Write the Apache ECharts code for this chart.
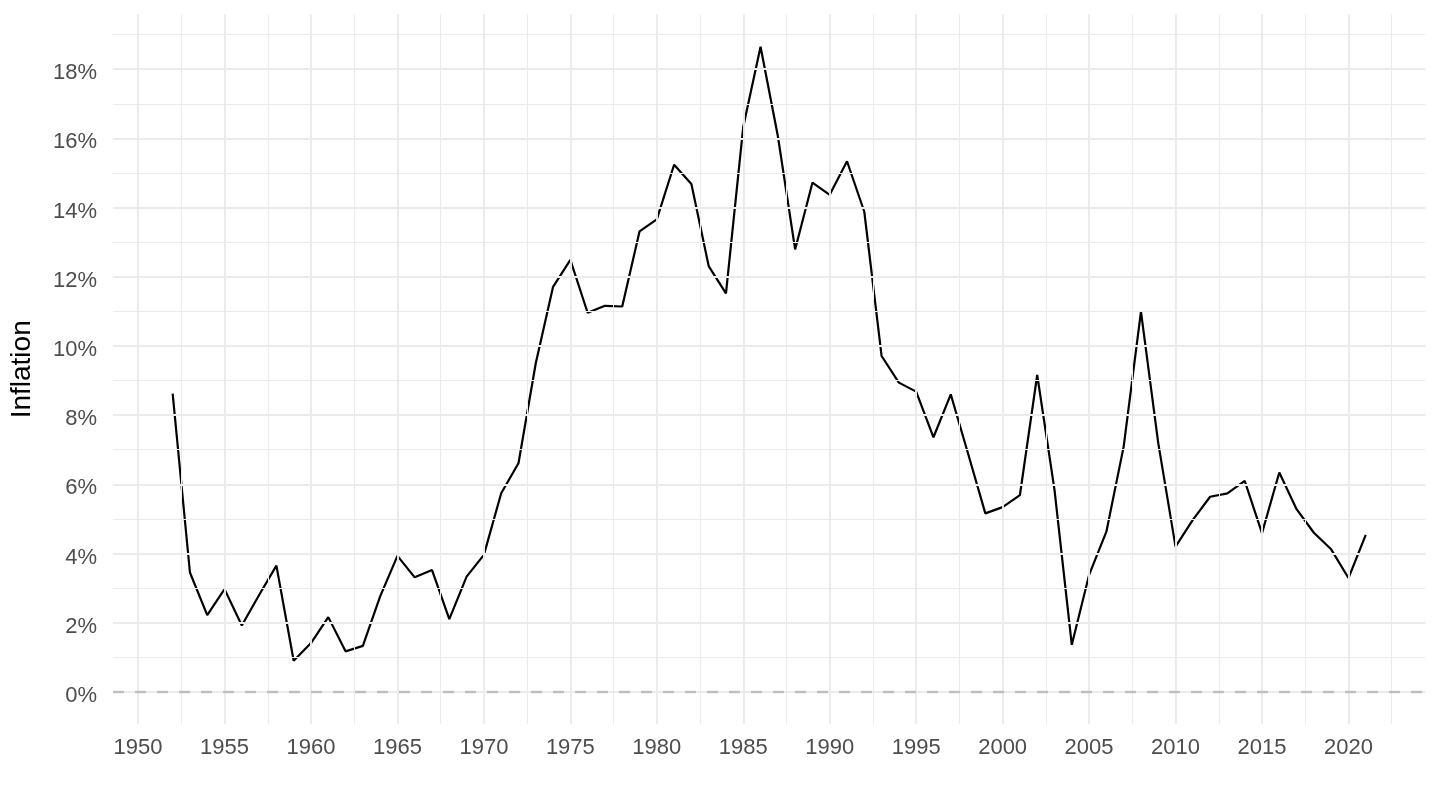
<!DOCTYPE html>
<html>
<head>
<meta charset="utf-8">
<script src="https://cdn.jsdelivr.net/npm/echarts@6/dist/echarts.min.js"></script>
<style>
html,body{margin:0;padding:0;background:#fff;}
#chart{width:1440px;height:810px;}
</style>
</head>
<body>
<div id="chart"></div>
<script>
// ---- data ----
const years = [1952,1953,1954,1955,1956,1957,1958,1959,1960,1961,1962,1963,1964,1965,1966,1967,1968,1969,1970,
  1971,1972,1973,1974,1975,1976,1977,1978,1979,1980,1981,1982,1983,1984,1985,1986,1987,1988,1989,1990,
  1991,1992,1993,1994,1995,1996,1997,1998,1999,2000,2001,2002,2003,2004,2005,2006,2007,2008,2009,2010,
  2011,2012,2013,2014,2015,2016,2017,2018,2019,2020,2021];
const inflation = [8.62,3.45,2.22,2.97,1.92,2.80,3.65,0.90,1.41,2.16,1.17,1.33,2.76,3.93,3.31,3.52,2.10,3.33,3.96,
  5.74,6.61,9.50,11.71,12.49,10.96,11.16,11.14,13.31,13.66,15.24,14.68,12.31,11.52,16.34,18.65,16.07,12.79,14.72,14.37,
  15.34,13.88,9.71,8.94,8.68,7.36,8.60,6.89,5.16,5.34,5.69,9.16,5.84,1.36,3.38,4.63,7.09,10.99,7.19,4.20,
  4.97,5.64,5.74,6.10,4.59,6.34,5.28,4.60,4.12,3.29,4.54];
const xTickLabels = [1950,1955,1960,1965,1970,1975,1980,1985,1990,1995,2000,2005,2010,2015,2020];
const xMinorBreaks = [1952.5,1957.5,1962.5,1967.5,1972.5,1977.5,1982.5,1987.5,1992.5,1997.5,2002.5,2007.5,2012.5,2017.5,2022.5];
const yTickLabels = [0,2,4,6,8,10,12,14,16,18];
const yMinorBreaks = [1,3,5,7,9,11,13,15,17,19];
const refLine = [0];
// ---- end data ----

const FONT = "'Liberation Sans', Arial, Helvetica, sans-serif";
const xMin = 1948.55, xMax = 2024.45;
const yMin = -0.93, yMax = 19.58;

const gridColor = '#ebebeb';
function ml(list, key, width){
  return list.map(v => ({[key]: v, lineStyle:{color:gridColor, width:width, type:'solid'}}));
}

const chart = echarts.init(document.getElementById('chart'), null, {renderer:'canvas'});
chart.setOption({
  animation:false,
  backgroundColor:'#ffffff',
  grid:{left:110, right:14.6, top:14.6, bottom:86, containLabel:false},
  xAxis:{
    type:'value', min:xMin, max:xMax,
    axisLine:{show:false}, axisTick:{show:false}, splitLine:{show:false},
    axisLabel:{customValues:xTickLabels, color:'#4d4d4d', fontSize:22, fontFamily:FONT, margin:13,
      formatter:v=>String(Math.round(v))}
  },
  yAxis:{
    type:'value', min:yMin, max:yMax,
    name:'Inflation', nameLocation:'middle', nameRotate:90, nameGap:77,
    nameTextStyle:{color:'#000', fontSize:28, fontFamily:FONT},
    axisLine:{show:false}, axisTick:{show:false}, splitLine:{show:false},
    axisLabel:{customValues:yTickLabels, color:'#4d4d4d', fontSize:22, fontFamily:FONT, margin:16,
      formatter:v=>'{a|'+Math.round(v)+'%}',
      rich:{a:{color:'#4d4d4d', fontSize:22, fontFamily:FONT, padding:[8,0,0,0]}}}
  },
  series:[
    {
      type:'line', data:[], z:1, silent:true,
      markLine:{
        silent:true, symbol:['none','none'], label:{show:false}, animation:false,
        data: [].concat(ml(xMinorBreaks,'xAxis',1), ml(yMinorBreaks,'yAxis',1),
                        ml(xTickLabels,'xAxis',1.9), ml(yTickLabels,'yAxis',1.9))
      }
    },
    {
      type:'line', data:[], z:2, silent:true,
      markLine:{
        silent:true, symbol:['none','none'], label:{show:false}, animation:false,
        data: refLine.map(v=>({yAxis:v, lineStyle:{color:'#bebebe', width:2.4, type:[11,11]}}))
      }
    },
    {
      type:'line', z:3,
      data: years.map((y,i)=>[y, inflation[i]]),
      showSymbol:false, symbol:'none',
      lineStyle:{color:'#000', width:2.2},
      silent:true
    }
  ]
});
</script>
</body>
</html>
